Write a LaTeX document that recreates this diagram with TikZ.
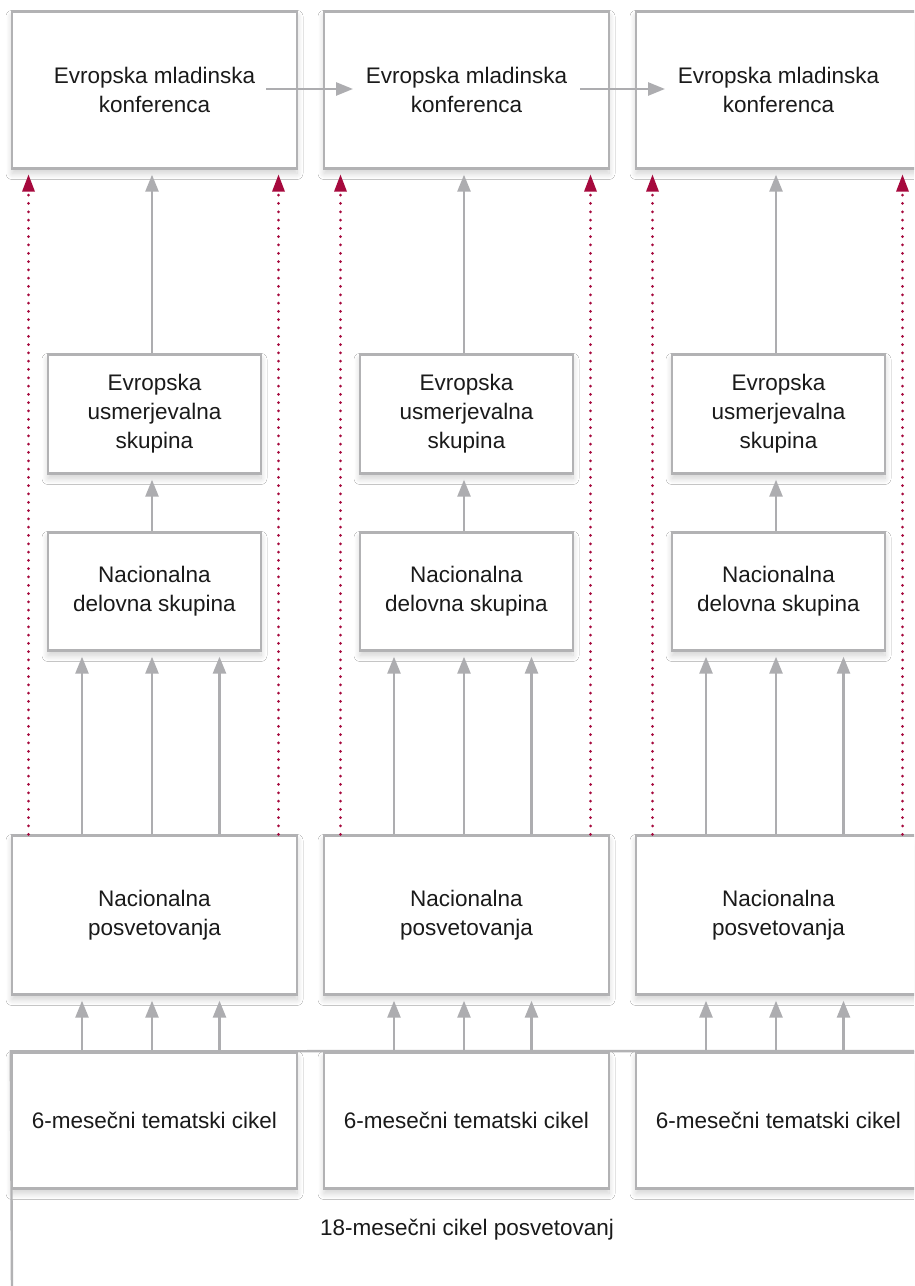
\documentclass[tikz,border=0pt]{standalone}
\usepackage{fontspec}
\setmainfont{Liberation Sans}
\usetikzlibrary{arrows.meta,shadows.blur}
\definecolor{boxgray}{HTML}{B2B2B4}
\definecolor{arrgray}{HTML}{ADADB0}
\definecolor{redarr}{HTML}{A6093D}
\definecolor{txt}{HTML}{1A1A1A}
\tikzset{
  card/.style={draw=boxgray, line width=2.4pt, fill=white, inner sep=0pt, align=center,
    text=txt, font=\fontsize{22.5}{29}\selectfont,
    blur shadow={shadow xshift=0pt, shadow yshift=-5pt, shadow blur radius=6pt, shadow blur steps=12, shadow opacity=18}},
  wide/.style={card, minimum width=285pt},
  narrow/.style={card, minimum width=213pt},
  garrow/.style={draw=arrgray, line width=2.6pt, -{Triangle[width=13pt,length=17pt]}, shorten >=5pt},
  rarrow/.style={draw=redarr, line width=3pt, line cap=round, dash pattern=on 0pt off 8.3pt,
    -{Triangle[width=13pt,length=17pt,fill=redarr,line width=0pt]}, shorten >=5pt},
  bracket/.style={draw=boxgray, line width=2.4pt},
  lbl/.style={text=txt, font=\fontsize{22.5}{29}\selectfont}
}
\begin{document}
\begin{tikzpicture}[x=1pt,y=1pt]
\clip (0,0) rectangle (914,1286);
\fill[white] (0,0) rectangle (914,1286);
\foreach \i in {1,2,3}{
  \pgfmathsetmacro{\cx}{154.5+312*(\i-1)}
  \node[wide, minimum height=157pt] (top\i) at (\cx,1196) {Evropska mladinska\\konferenca};
  \node[narrow, minimum height=119pt] (usm\i) at (\cx,872) {Evropska\\usmerjevalna\\skupina};
  \node[narrow, minimum height=118pt] (del\i) at (\cx,694.5) {Nacionalna\\delovna skupina};
  \node[wide, minimum height=159pt] (pos\i) at (\cx,371) {Nacionalna\\posvetovanja};
  \node[wide, minimum height=136pt] (cik\i) at (\cx,165.5) {6-mesečni tematski cikel};
  % vertical connectors
  \draw[garrow] ([xshift=-2.5pt]usm\i.north) -- ([xshift=-2.5pt]top\i.south);
  \draw[garrow] ([xshift=-2.5pt]del\i.north) -- ([xshift=-2.5pt]usm\i.south);
  \foreach \dx in {-72.5,-2.5,65}{
    \draw[garrow] ([xshift=\dx pt]pos\i.north) -- ([xshift=\dx pt]del\i.south);
    \draw[garrow] ([xshift=\dx pt]cik\i.north) -- ([xshift=\dx pt]pos\i.south);
  }
  \draw[rarrow] ([xshift=-126pt]pos\i.north) -- ([xshift=-126pt]top\i.south);
  \draw[rarrow] ([xshift=124pt]pos\i.north) -- ([xshift=124pt]top\i.south);
}
% horizontal connectors between conferences
\draw[garrow] ([xshift=111.5pt,yshift=1pt]top1.center) -- ([xshift=-108.5pt,yshift=1pt]top2.center);
\draw[garrow] ([xshift=113.5pt,yshift=1pt]top2.center) -- ([xshift=-108.5pt,yshift=1pt]top3.center);
% 18-month bracket
\coordinate (bl) at (12,-4);
\coordinate (br) at (920,235);
\draw[bracket] (bl) -- (cik1.north west) -- (br);
\node[lbl] (cyc) at (467,56) {18-mesečni cikel posvetovanj};
\end{tikzpicture}
\end{document}
